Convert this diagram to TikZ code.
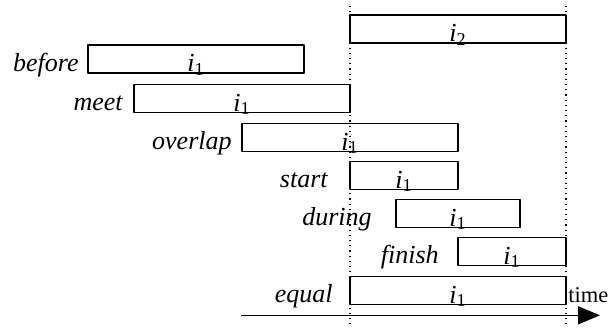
\documentclass[tikz,border=0pt]{standalone}
\usepackage{fontspec}
\setmainfont{Liberation Serif}
\usetikzlibrary{arrows.meta}
\begin{document}
\begin{tikzpicture}[x=0.5pt, y=0.5pt, line join=round,
 box/.style={draw, line width=0.9pt, inner sep=0pt, outer sep=0pt, minimum height=14pt},
 lab/.style={font=\fontsize{13}{15}\selectfont\itshape, inner sep=0pt},
 ilab/.style={font=\fontsize{13}{15}\selectfont, inner sep=0pt, anchor=base},
 guide/.style={line width=0.6pt, dotted},
 axis/.style={line width=0.8pt, -{Triangle[length=11pt, width=9pt]}}]
 \useasboundingbox (0,0) rectangle (610,328);
 \coordinate (lt) at (350,322);
 \coordinate (lb) at (350,0);
 \coordinate (rt) at (566,322);
 \coordinate (rb) at (566,0);
 \draw[guide] (lt) -- (lb);
 \draw[guide] (rt) -- (rb);
 \node[box, minimum width=108pt] (i2) at (458,299) {};
 \node[ilab] at ([yshift=0.75pt]i2.south) {{\itshape i}\textsubscript{2}};
 \foreach \n/\cx/\y/\w/\g in {before/196/269/216/9, meet/242/229.5/216/11,
 overlap/350/190.5/216/10, start/404/152.5/108/22, during/458/114.5/124/24,
 finish/512/76.5/108/19, equal/458/37.5/216/17}{
 \node[box, minimum width={\w*0.5pt}] (\n) at (\cx,\y) {};
 \node[lab, anchor=base east] (\n-lab) at ([shift={(-\g,2)}]\n.south west) {\n};
 \node[ilab] (\n-i) at ([yshift=0.75pt]\n.south) {{\itshape i}\textsubscript{1}};}
 \coordinate (ax0) at (241,12.7);
 \coordinate (ax1) at (600,12.7);
 \draw[axis] (ax0) -- (ax1);
 \node[font=\fontsize{11.25}{13}\selectfont, inner sep=0pt, anchor=base west] (tm) at (568,26) {time};
\end{tikzpicture}
\end{document}
